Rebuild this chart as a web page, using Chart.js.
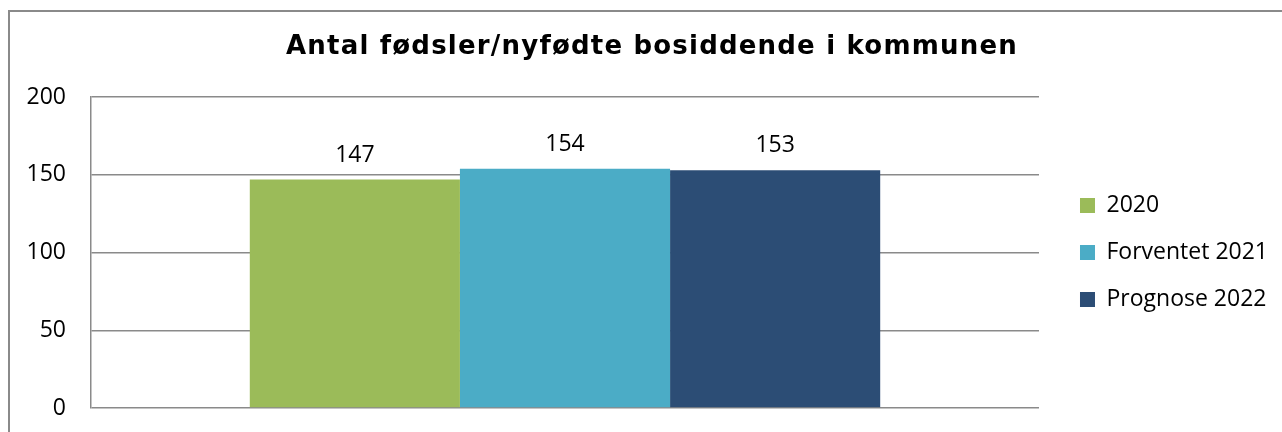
<!DOCTYPE html>
<html>
<head>
<meta charset="utf-8">
<script src="https://cdn.jsdelivr.net/npm/chart.js@4/dist/chart.umd.min.js"></script>
<style>
  html, body { margin: 0; padding: 0; background: #ffffff; }
  #frame { position: absolute; left: 8px; top: 10px; width: 1300px; height: 440px;
           border-left: 2px solid #8a8a8a; border-top: 2px solid #8a8a8a; }
  #c { position: absolute; left: 0; top: 0; }
</style>
</head>
<body>
<div id="frame"></div>
<canvas id="c" width="1282" height="432"></canvas>
<script>
const categories = [''];
const seriesNames = ['2020', 'Forventet 2021', 'Prognose 2022'];
const values2020 = [147];
const valuesForventet2021 = [154];
const valuesPrognose2022 = [153];
const yTicks = [0, 50, 100, 150, 200];
const titleText = 'Antal fødsler/nyfødte bosiddende i kommunen';
const colors = ['#9BBB59', '#4BACC6', '#2C4D75'];

const tickFont = { family: '"Open Sans", "Noto Sans", sans-serif', size: 23 };
const LEGEND_GAP = 17;
const TITLE_SPACING = '1.2px';

const valueLabels = {
  id: 'valueLabels',
  afterDatasetsDraw(chart) {
    const ctx = chart.ctx;
    ctx.save();
    ctx.font = `${tickFont.size}px ${tickFont.family}`;
    ctx.fillStyle = '#000000';
    ctx.textAlign = 'center';
    ctx.textBaseline = 'alphabetic';
    chart.data.datasets.forEach((ds, i) => {
      const meta = chart.getDatasetMeta(i);
      meta.data.forEach((el, j) => {
        ctx.fillText(String(ds.data[j]), el.x, el.y - 18);
      });
    });
    ctx.restore();
  }
};

const boxTweaks = {
  id: 'boxTweaks',
  afterInit(chart) {
    const lg = chart.legend;
    if (lg) {
      const fit = lg.fit;
      lg.fit = function () { fit.call(this); this.width += LEGEND_GAP; };
      const draw = lg.draw;
      lg.draw = function () {
        const c = this.ctx; c.save(); c.translate(LEGEND_GAP, 0); draw.call(this); c.restore();
      };
    }
    const tb = chart.titleBlock;
    if (tb) {
      const tdraw = tb.draw;
      tb.draw = function () {
        const c = this.ctx; c.save(); c.letterSpacing = TITLE_SPACING; tdraw.call(this); c.restore();
      };
    }
  }
};

const series = [values2020, valuesForventet2021, valuesPrognose2022];

new Chart(document.getElementById('c'), {
  type: 'bar',
  data: {
    labels: categories,
    datasets: series.map((d, i) => ({
      label: seriesNames[i],
      data: d,
      backgroundColor: colors[i],
      borderWidth: 0,
      barPercentage: 1,
      categoryPercentage: 0.665
    }))
  },
  options: {
    responsive: false,
    animation: false,
    layout: { padding: { left: 26, right: 4, top: 0, bottom: 24 } },
    plugins: {
      title: {
        display: true,
        text: titleText,
        color: '#000000',
        font: { family: '"DejaVu Sans", Verdana, sans-serif', size: 26, weight: 'bold', lineHeight: 1.2 },
        padding: { top: 32, bottom: 34 }
      },
      legend: {
        display: true,
        position: 'right',
        align: 'center',
        fullSize: false,
        labels: {
          boxWidth: 15,
          boxHeight: 15,
          padding: 24,
          color: '#000000',
          font: tickFont
        }
      },
      tooltip: { enabled: false }
    },
    scales: {
      x: { display: false },
      y: {
        min: 0, max: 200,
        afterBuildTicks(s) { s.ticks = yTicks.map(v => ({ value: v })); },
        afterFit(s) { s.width = 65; },
        ticks: { padding: 0, color: '#000000', font: tickFont },
        grid: { color: '#8a8a8a', lineWidth: 1.5, drawTicks: true, tickLength: 25, tickColor: 'rgba(0,0,0,0)' },
        border: { display: true, color: '#8a8a8a', width: 1.5 }
      }
    }
  },
  plugins: [valueLabels, boxTweaks]
});
</script>
</body>
</html>
